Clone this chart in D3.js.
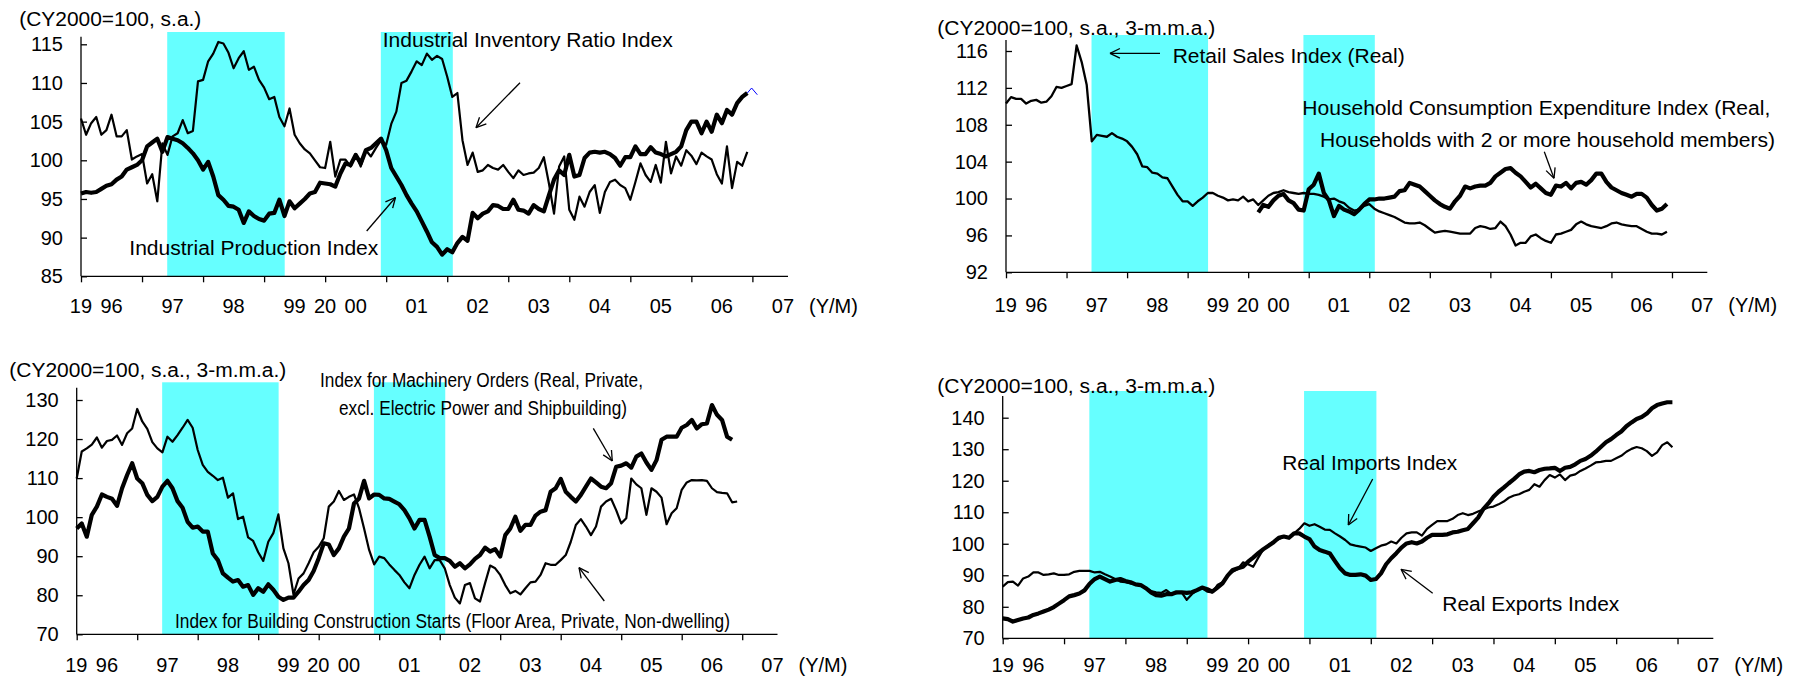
<!DOCTYPE html>
<html>
<head>
<meta charset="utf-8">
<script src="https://cdn.jsdelivr.net/npm/d3@7"></script>
<style>
body { margin: 0; background: #fff; }
svg text { font-family: "Liberation Sans", Arial, sans-serif; fill: #000; }
</style>
</head>
<body>
<script>
// month index: 0 = 1996/01
var yearLabels = ["96", "97", "98", "99", "00", "01", "02", "03", "04", "05", "06", "07"];
var yearPrefix = {"96": "19", "00": "20"};
var recessions = [[16.95, 40.05], [58.95, 73.1]];

// top left
var p1Ticks = [85, 90, 95, 100, 105, 110, 115];
var industrialProduction = [
  95.7, 95.9, 95.8, 95.9, 96.3, 96.7, 96.9, 97.5, 97.9, 98.8,
  99.1, 99.4, 100.0, 101.8, 102.3, 102.8, 101.1, 103.0, 102.8, 102.6,
  102.2, 101.6, 100.9, 100.0, 98.8, 99.8, 97.9, 95.5, 94.9, 94.1,
  94.0, 93.6, 91.9, 93.4, 92.8, 92.4, 92.2, 93.1, 93.2, 94.9,
  92.8, 94.7, 93.8, 94.4, 95.0, 95.7, 95.9, 97.1, 97.0, 96.9,
  96.6, 98.3, 99.6, 99.4, 100.7, 99.6, 101.3, 101.6, 102.2, 102.8,
  101.3, 99.0, 97.9, 96.8, 95.5, 94.4, 93.4, 92.1, 90.8, 89.4,
  88.8, 87.8, 88.5, 88.1, 89.3, 90.1, 89.6, 93.2, 92.5, 93.1,
  93.4, 94.2, 94.1, 93.7, 93.7, 94.9, 93.6, 93.5, 93.1, 94.2,
  93.7, 93.4, 95.5, 97.5, 98.7, 98.1, 100.7, 97.9, 98.1, 100.3,
  101.0, 101.1, 101.0, 101.1, 100.8, 100.3, 99.3, 100.4, 100.4, 101.8,
  100.8, 100.8, 101.7, 101.0, 100.8, 100.5, 100.8, 101.1,
  101.8, 103.9, 105.0, 105.0, 103.5, 105.0, 103.7, 105.9, 104.8, 106.5,
  105.9, 107.4, 108.2, 108.7
];
var inventoryRatio = [
  105.4, 103.3, 104.8, 105.6, 103.3, 103.9, 105.9, 103.1, 103.1, 103.9,
  100.1, 100.5, 100.8, 97.0, 98.2, 94.7, 102.2, 100.7, 103.1, 103.5,
  105.2, 103.5, 103.8, 110.2, 110.4, 112.8, 113.8, 115.3, 115.1, 113.9,
  111.9, 113.2, 114.1, 111.7, 112.1, 110.4, 109.4, 107.9, 108.2, 105.6,
  104.4, 106.7, 103.3, 102.2, 101.4, 100.9, 100.0, 99.1, 99.0, 102.4,
  97.9, 100.1, 100.1, 99.2, 100.8, 99.2, 101.3, 100.5, 101.6, 102.6,
  102.0, 104.7, 106.3, 110.0, 110.3, 111.5, 112.8, 112.3, 113.8, 113.0,
  113.5, 113.1, 110.8, 108.2, 108.7, 102.6, 99.4, 101.0, 98.5, 98.7,
  99.4, 99.0, 98.8, 99.4, 98.5, 97.7, 98.7, 98.1, 98.3, 98.4,
  99.0, 100.4, 97.0, 93.1, 99.2, 100.5, 93.6, 92.3, 95.3, 94.0,
  95.9, 96.8, 93.2, 95.9, 97.2, 97.5, 96.8, 96.4, 94.9, 97.2,
  99.6, 98.1, 97.2, 99.4, 97.1, 102.4, 98.3, 100.5, 99.3, 101.3,
  100.6, 99.5, 101.0, 100.5, 100.1, 98.2, 97.0, 101.8, 96.4, 99.8,
  99.3, 101.1
];

// top right
var p2Ticks = [92, 96, 100, 104, 108, 112, 116];
var retailSales = [
  110.3, 111.0, 110.8, 110.8, 110.3, 110.6, 110.7, 110.4, 110.5, 111.1,
  112.1, 112.0, 112.2, 112.4, 116.6, 114.8, 112.3, 106.2, 106.9, 106.8,
  106.7, 107.1, 106.7, 106.5, 106.2, 105.6, 104.8, 103.5, 103.4, 102.8,
  102.7, 102.3, 102.2, 101.3, 100.4, 99.7, 99.7, 99.2, 99.7, 100.1,
  100.6, 100.6, 100.3, 100.1, 99.8, 99.9, 99.8, 100.2, 99.7, 99.9,
  99.3, 99.8, 100.3, 100.6, 100.7, 100.9, 100.7, 100.6, 100.5, 100.6,
  100.5, 100.5, 100.4, 100.2, 99.9, 100.0, 99.7, 99.5, 99.0, 98.7,
  98.8, 99.2, 99.4, 98.9, 98.6, 98.4, 98.2, 98.0, 97.7, 97.4,
  97.3, 97.3, 97.4, 97.1, 96.7, 96.3, 96.4, 96.5, 96.4, 96.3,
  96.2, 96.2, 96.2, 96.8, 97.0, 96.9, 96.7, 96.8, 97.5, 97.0,
  96.1, 94.9, 95.2, 95.2, 95.9, 96.1, 95.7, 95.4, 95.2, 96.1,
  96.2, 96.4, 96.6, 97.2, 97.5, 97.2, 97.0, 96.9, 96.8, 97.0,
  97.3, 97.4, 97.2, 97.1, 97.0, 97.0, 96.7, 96.4, 96.2, 96.2,
  96.1, 96.4
];
var householdStart = 50; // 2000/03
var householdExpenditure = [
  98.5, 99.3, 99.1, 99.8, 100.3, 100.5, 99.8, 99.5, 98.8, 98.7,
  101.0, 101.5, 102.7, 100.6, 99.8, 98.1, 99.2, 98.8, 98.6, 98.3,
  98.8, 99.4, 99.9, 99.9, 100.0, 100.0, 100.1, 100.2, 100.8, 100.9,
  101.7, 101.5, 101.3, 100.8, 100.3, 99.8, 99.4, 99.1, 98.9, 99.7,
  100.3, 101.3, 101.1, 101.3, 101.4, 101.4, 101.7, 102.4, 102.8, 103.2,
  103.3, 102.8, 102.4, 101.8, 101.2, 101.6, 101.1, 100.6, 100.4, 101.4,
  101.3, 101.7, 101.1, 101.7, 101.8, 101.5, 102.0, 102.7, 102.7, 101.8,
  101.2, 100.9, 100.6, 100.4, 100.2, 100.5, 100.5, 100.1, 99.3, 98.7,
  98.9, 99.4
];

// bottom left
var p3Ticks = [70, 80, 90, 100, 110, 120, 130];
var machineryOrders = [
  97.1, 98.4, 95.0, 100.6, 102.7, 105.8, 105.2, 104.7, 102.9, 107.4,
  110.8, 113.8, 109.9, 108.7, 105.7, 104.1, 105.2, 107.8, 109.3, 107.4,
  104.1, 102.4, 98.8, 97.3, 97.6, 96.3, 96.3, 90.7, 89.0, 85.6,
  84.5, 83.5, 83.9, 82.2, 82.6, 80.1, 81.8, 80.9, 82.8, 81.4,
  79.6, 78.8, 79.4, 79.4, 80.9, 82.6, 83.9, 86.2, 89.5, 93.3,
  93.0, 90.3, 92.0, 95.0, 97.1, 103.5, 104.8, 109.3, 104.8, 105.8,
  105.7, 104.8, 104.7, 104.0, 103.3, 101.8, 99.7, 97.1, 99.3, 99.3,
  95.0, 90.3, 89.5, 89.5, 88.8, 87.3, 88.2, 86.9, 87.9, 89.3,
  90.3, 92.2, 91.2, 91.8, 89.9, 95.4, 97.1, 100.1, 96.5, 98.0,
  98.0, 100.4, 101.4, 101.8, 106.5, 107.4, 109.8, 106.5, 105.2, 104.0,
  105.7, 107.8, 109.9, 108.9, 107.8, 107.4, 108.7, 112.9, 113.2, 113.8,
  112.7, 115.5, 116.3, 114.0, 112.1, 114.6, 119.8, 120.6, 120.6, 120.6,
  122.9, 123.6, 124.9, 122.7, 123.8, 124.0, 128.7, 126.2, 124.9, 120.6,
  119.8
];
var buildingStarts = [
  109.9, 116.8, 117.6, 118.6, 120.4, 117.8, 119.5, 119.8, 120.9, 118.5,
  121.5, 122.7, 127.7, 124.5, 122.6, 119.2, 117.6, 116.6, 120.6, 119.3,
  121.0, 122.9, 124.9, 122.9, 117.2, 113.4, 111.6, 110.6, 109.5, 110.1,
  105.0, 106.1, 99.5, 100.1, 94.8, 93.9, 91.0, 88.8, 93.7, 95.9,
  100.7, 92.0, 88.2, 80.2, 84.3, 85.6, 88.2, 91.0, 92.4, 94.6,
  102.7, 104.0, 106.7, 104.4, 105.2, 105.8, 102.3, 97.1, 91.6, 87.9,
  89.9, 89.5, 87.9, 86.5, 85.2, 83.3, 81.8, 85.2, 87.8, 89.9,
  86.9, 89.0, 89.0, 86.9, 82.6, 79.4, 77.9, 82.6, 83.1, 79.2,
  78.4, 83.1, 87.6, 86.9, 85.2, 82.6, 80.5, 81.1, 80.2, 81.8,
  83.3, 83.5, 85.2, 88.2, 87.8, 87.8, 89.0, 90.3, 93.7, 98.0,
  99.5, 97.6, 95.4, 97.6, 102.7, 104.0, 104.7, 101.8, 98.4, 99.7,
  109.9, 108.4, 107.4, 100.6, 107.4, 106.5, 105.0, 98.2, 101.0, 102.3,
  107.0, 108.9, 109.5, 109.4, 109.5, 109.3, 107.4, 106.4, 106.2, 106.1,
  103.8, 104.0
];

// bottom right
var p4Ticks = [70, 80, 90, 100, 110, 120, 130, 140];
var realExports = [
  76.3, 76.1, 75.3, 75.8, 76.3, 76.6, 77.4, 77.9, 78.5, 79.1,
  79.9, 81.0, 82.1, 83.3, 83.7, 84.2, 85.2, 87.3, 88.8, 89.6,
  88.8, 88.0, 88.5, 88.8, 88.2, 87.8, 87.1, 86.9, 85.9, 84.6,
  83.7, 83.5, 84.0, 84.0, 84.6, 84.6, 84.4, 84.6, 85.3, 86.1,
  85.6, 84.8, 86.1, 87.4, 89.9, 91.7, 92.2, 92.7, 94.3, 95.6,
  97.0, 98.3, 99.4, 100.5, 101.9, 102.3, 101.9, 103.3, 103.3, 102.3,
  101.5, 99.1, 98.0, 97.5, 96.9, 94.5, 92.2, 90.6, 90.1, 90.1,
  90.3, 89.9, 88.5, 88.8, 90.6, 93.5, 95.4, 97.0, 98.8, 100.1,
  100.5, 100.1, 100.7, 101.9, 102.8, 102.8, 102.8, 103.0, 103.6, 103.8,
  104.3, 104.7, 106.5, 108.3, 111.0, 112.8, 114.9, 116.5, 117.8, 119.2,
  120.5, 122.0, 122.9, 123.1, 122.7, 123.4, 123.8, 123.9, 124.1, 123.1,
  124.1, 124.4, 125.2, 126.3, 126.9, 127.9, 129.2, 130.7, 132.2, 133.2,
  134.5, 135.6, 137.3, 138.5, 139.6, 140.2, 141.3, 143.0, 144.0, 144.5,
  144.9, 144.9
];
var realImports = [
  86.4, 87.8, 88.0, 86.7, 89.0, 89.6, 90.9, 90.9, 90.1, 90.3,
  90.6, 90.1, 90.1, 90.3, 91.1, 91.4, 91.4, 91.4, 90.9, 91.1,
  90.3, 89.6, 88.8, 88.0, 87.8, 87.4, 87.1, 86.6, 86.1, 85.0,
  84.6, 84.4, 85.3, 84.0, 84.3, 84.6, 82.2, 84.0, 85.3, 85.9,
  84.8, 84.6, 86.9, 87.8, 89.9, 91.1, 92.0, 94.1, 93.5, 92.7,
  95.6, 98.3, 99.6, 100.7, 101.4, 102.3, 101.9, 103.3, 104.7, 106.5,
  105.7, 106.2, 105.4, 104.5, 104.4, 103.3, 102.3, 101.2, 99.8, 99.4,
  99.1, 98.8, 97.7, 98.6, 99.4, 99.8, 100.7, 100.1, 101.9, 103.3,
  103.6, 103.6, 102.6, 104.7, 106.0, 107.2, 107.2, 107.2, 107.9, 109.1,
  109.7, 109.1, 109.5, 110.2, 110.9, 111.5, 111.8, 112.5, 113.4, 114.6,
  115.3, 115.7, 116.5, 117.1, 118.9, 118.1, 120.2, 121.8, 121.0, 122.0,
  120.2, 121.6, 122.0, 123.1, 123.9, 124.8, 125.8, 126.0, 126.3, 126.3,
  127.1, 127.9, 129.2, 130.1, 130.7, 130.3, 129.4, 127.9, 129.0, 131.3,
  132.2, 130.6
];

var svg = d3.select("body")
            .append("svg")
            .attr("width", 1798)
            .attr("height", 677);

var addText = function(g, t, x, y, size, w, anchor) {
  var el = g.append("text")
            .attr("x", x)
            .attr("y", y)
            .style("font-size", size + "px")
            .attr("text-anchor", anchor || "start")
            .text(t);
  if (w) el.attr("textLength", w).attr("lengthAdjust", "spacingAndGlyphs");
  return el;
};

var arrow = function(g, a) {
  // a = [tailX, tailY, headX, headY]
  var ang = Math.atan2(a[3] - a[1], a[2] - a[0]);
  var len = 11, spread = 0.45;
  g.append("line").attr("x1", a[0]).attr("y1", a[1]).attr("x2", a[2]).attr("y2", a[3])
   .attr("stroke", "#000").attr("stroke-width", 1.3);
  [ang + Math.PI - spread, ang + Math.PI + spread].forEach(function(t) {
    g.append("line").attr("x1", a[2]).attr("y1", a[3])
     .attr("x2", a[2] + len * Math.cos(t)).attr("y2", a[3] + len * Math.sin(t))
     .attr("stroke", "#000").attr("stroke-width", 1.3);
  });
};

var drawPanel = function(p) {
  var g = svg.append("g");
  var x = d3.scaleLinear().domain([0, 139]).range([p.left, p.right]);
  var y = d3.scaleLinear().domain([p.ticks[0], p.ticks[p.ticks.length - 1]])
                          .range([p.bottom, p.topTick]);

  // recession shading
  g.selectAll("rect.band")
   .data(recessions)
   .enter()
   .append("rect")
   .attr("x", function(d) { return x(d[0]); })
   .attr("width", function(d) { return x(d[1]) - x(d[0]); })
   .attr("y", p.bandTop)
   .attr("height", p.bottom - p.bandTop)
   .style("fill", "#66ffff");

  // y axis, ticks pointing inward
  var ya = g.append("g")
            .attr("transform", "translate(" + p.left + ",0)")
            .call(d3.axisLeft(y).tickValues(p.ticks).tickSizeInner(-6).tickSizeOuter(0).tickPadding(18));
  ya.select(".domain").remove();
  ya.selectAll("line").attr("stroke", "#000").attr("stroke-width", 1.3);
  ya.selectAll("text").style("font-size", "20px").style("font-family", "Liberation Sans, Arial, sans-serif");
  g.append("line").attr("x1", p.left).attr("x2", p.left).attr("y1", p.axisTop).attr("y2", p.bottom)
   .attr("stroke", "#000").attr("stroke-width", 1.3);

  // x axis
  var xa = g.append("g")
            .attr("transform", "translate(0," + p.bottom + ")")
            .call(d3.axisBottom(x).tickValues(d3.range(0, 133, 12)).tickSize(6).tickFormat(""));
  xa.select(".domain").remove();
  xa.selectAll("line").attr("stroke", "#000").attr("stroke-width", 1.3);
  g.append("line").attr("x1", p.left).attr("x2", p.right).attr("y1", p.bottom).attr("y2", p.bottom)
   .attr("stroke", "#000").attr("stroke-width", 1.3);

  yearLabels.forEach(function(lab, i) {
    var cx = x(i * 12 + 6);
    addText(g, lab, cx, p.bottom + p.labelDy, 20, null, "middle");
    if (yearPrefix[lab]) addText(g, yearPrefix[lab], cx - 19.5, p.bottom + p.labelDy, 20, null, "end");
  });
  addText(g, "(Y/M)", p.right + 21, p.bottom + p.labelDy, 20);

  // series
  p.series.forEach(function(s) {
    var line = d3.line()
                 .x(function(d, i) { return x(s.start + i); })
                 .y(function(d) { return y(d); });
    g.append("path")
     .attr("d", line(s.values))
     .attr("fill", "none")
     .attr("stroke", "#000")
     .attr("stroke-width", s.width)
     .attr("stroke-linejoin", "round");
  });

  if (p.extra) p.extra(g, x, y);

  addText(g, p.title[0], p.title[1], p.title[2], 20, p.title[3]);
  p.notes.forEach(function(n) { addText(g, n[0], n[1], n[2], 20, n[3]); });
  p.arrows.forEach(function(a) { arrow(g, a); });
};

drawPanel({
  left: 81, right: 788, bottom: 276.3, topTick: 44.3, bandTop: 32, axisTop: 36.7,
  ticks: p1Ticks, labelDy: 36.4,
  series: [
    {values: inventoryRatio, start: 0, width: 2.2},
    {values: industrialProduction, start: 0, width: 4.2}
  ],
  title: ["(CY2000=100, s.a.)", 19.3, 25.5, 182],
  notes: [
    ["Industrial Production Index", 129.3, 255, 249],
    ["Industrial Inventory Ratio Index", 382.7, 46.7, 290]
  ],
  arrows: [[366.7, 231, 395.5, 197.5], [520, 82.7, 476, 127.7]],
  extra: function(g, x, y) {
    // small blue marker left on the last point
    var n = industrialProduction.length - 1;
    var px = x(n), py = y(industrialProduction[n]);
    g.append("polyline")
     .attr("points", [[px, py], [px + 4.3, py - 5], [px + 10, py + 1.7]].join(" "))
     .attr("fill", "none").attr("stroke", "#0000ff").attr("stroke-width", 1);
  }
});

drawPanel({
  left: 1006, right: 1707.3, bottom: 272.3, topTick: 51, bandTop: 35, axisTop: 40,
  ticks: p2Ticks, labelDy: 39.4,
  series: [
    {values: retailSales, start: 0, width: 2.3},
    {values: householdExpenditure, start: householdStart, width: 4.2}
  ],
  title: ["(CY2000=100, s.a., 3-m.m.a.)", 937.3, 35, 278],
  notes: [
    ["Retail Sales Index (Real)", 1172.7, 62.5, 232],
    ["Household Consumption Expenditure Index (Real,", 1302.3, 115, 468],
    ["Households with 2 or more household members)", 1320, 147, 455]
  ],
  arrows: [[1160, 53.3, 1110, 53.3], [1544.3, 151.7, 1554, 178.3]]
});

drawPanel({
  left: 76.7, right: 777.5, bottom: 634.3, topTick: 400, bandTop: 382.3, axisTop: 387.7,
  ticks: p3Ticks, labelDy: 37.4,
  series: [
    {values: buildingStarts, start: 0, width: 2.2},
    {values: machineryOrders, start: 0, width: 4.2}
  ],
  title: ["(CY2000=100, s.a., 3-m.m.a.)", 9.3, 377, 277],
  notes: [
    ["Index for Machinery Orders (Real, Private,", 320, 387, 323],
    ["excl. Electric Power and Shipbuilding)", 339, 415, 288],
    ["Index for Building Construction Starts (Floor Area, Private, Non-dwelling)", 175, 628, 555]
  ],
  arrows: [[593.3, 428.3, 612.3, 461], [604.3, 601, 579, 567.7]]
});

drawPanel({
  left: 1002.7, right: 1713.3, bottom: 638.3, topTick: 417.7, bandTop: 391, axisTop: 396,
  ticks: p4Ticks, labelDy: 33.4,
  series: [
    {values: realImports, start: 0, width: 2.2},
    {values: realExports, start: 0, width: 4.2}
  ],
  title: ["(CY2000=100, s.a., 3-m.m.a.)", 937.3, 392.5, 278],
  notes: [
    ["Real Imports Index", 1282.3, 470, 175],
    ["Real Exports Index", 1442.3, 610.7, 177]
  ],
  arrows: [[1372.7, 479, 1348.3, 525], [1432.7, 593.3, 1401, 569.3]]
});
</script>
</body>
</html>
